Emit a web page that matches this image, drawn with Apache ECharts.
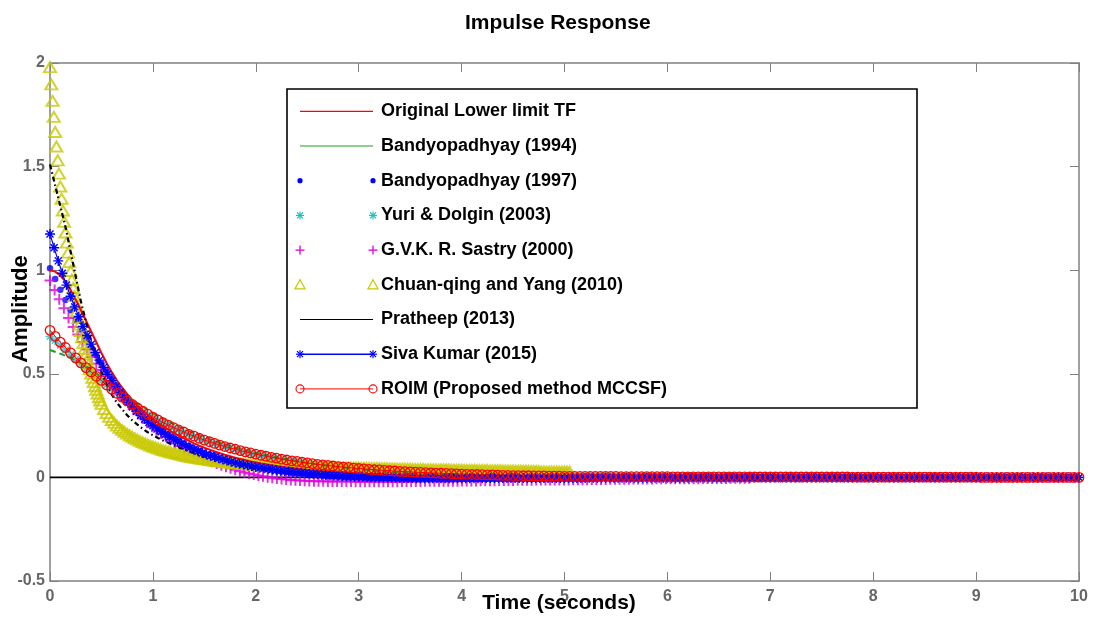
<!DOCTYPE html>
<html>
<head>
<meta charset="utf-8">
<script src="https://cdn.jsdelivr.net/npm/echarts@6/dist/echarts.min.js"></script>
<style>
  html, body { margin: 0; padding: 0; background: #fff; }
  #chart { width: 1099px; height: 619px; }
</style>
</head>
<body>
<div id="chart"></div>
<script>
// Impulse responses of the original lower-limit transfer function and its reduced-order models.

const seriesNames = [
  'Original Lower limit TF',
  'Bandyopadhyay (1994)',
  'Bandyopadhyay (1997)',
  'Yuri & Dolgin (2003)',
  'G.V.K. R. Sastry (2000)',
  'Chuan-qing and Yang (2010)',
  'Pratheep (2013)',
  'Siva Kumar (2015)',
  'ROIM (Proposed method MCCSF)'
];

const xTicks = [0, 1, 2, 3, 4, 5, 6, 7, 8, 9, 10];
const yTicks = [-0.5, 0, 0.5, 1, 1.5, 2];

// zero reference line
const zeroLineT = [0, 10];
const zeroLineY = [0, 0];

// Original Lower limit TF, sampled every 0.05 s
const originalStep = 0.05;
const originalY = [
  1.000,0.993,0.975,0.945,0.905,0.858,0.808,0.756,0.704,0.652,0.600,
  0.552,0.508,0.469,0.434,0.402,0.373,0.347,0.323,0.301,0.281,
  0.263,0.246,0.230,0.215,0.201,0.188,0.176,0.164,0.153,0.143,
  0.134,0.125,0.117,0.109,0.102,0.095,0.089,0.083,0.077,0.072,
  0.067,0.063,0.059,0.055,0.051,0.048,0.045,0.042,0.039,0.036,
  0.034,0.032,0.030,0.028,0.026,0.024,0.022,0.021,0.019,0.018,
  0.017,0.016,0.015,0.014,0.013,0.012,0.011,0.010,0.009,0.008,
  0.007,0.007,0.006,0.005,0.005,0.004,0.004,0.003,0.003,0.002,
  0.002,0.002,0.001,0.001,0.001,0.000,0.000,0.000,0.000,0.000,
  0.000,0.000,0.000,0.000,0.000,0.000,0.000,0.000,0.000,0.000
];

// Bandyopadhyay (1994), every 0.1 s
const bandy94Step = 0.1;
const bandy94Y = [
  0.615,0.597,0.576,0.552,0.522,0.482,0.445,0.410,0.375,0.342,0.310,
  0.283,0.257,0.234,0.213,0.194,0.176,0.160,0.145,0.131,0.119,
  0.107,0.097,0.087,0.078,0.070,0.063,0.056,0.050,0.045,0.040,
  0.035,0.031,0.027,0.024,0.021,0.018,0.016,0.014,0.012,0.010,
  0.009,0.008,0.007,0.006,0.005,0.004,0.003,0.003,0.002,0.002,
  0.001,0.001,0.001,0.000,0.000,0.000,0.000,0.000,0.000,0.000
];

// Bandyopadhyay (1997), every 0.05 s
const bandy97Step = 0.05;
const bandy97Y = [
  1.010,0.958,0.906,0.856,0.807,0.760,0.714,0.670,0.628,0.588,0.550,
  0.513,0.478,0.445,0.413,0.384,0.356,0.330,0.306,0.284,0.263,
  0.244,0.226,0.209,0.193,0.179,0.165,0.152,0.140,0.129,0.119,
  0.111,0.103,0.095,0.088,0.081,0.075,0.069,0.063,0.058,0.053,
  0.048,0.043,0.039,0.035,0.031,0.027,0.024,0.021,0.018,0.015,
  0.013,0.010,0.008,0.006,0.004,0.003,0.001,0.000,-0.001,-0.002,
  -0.003,-0.004,-0.005,-0.005,-0.006,-0.006,-0.007,-0.007,-0.007,-0.008,
  -0.008,-0.008,-0.008,-0.008,-0.008,-0.008,-0.008,-0.008,-0.008,-0.008,
  -0.007,-0.007,-0.007,-0.007,-0.007,-0.007,-0.007,-0.007,-0.007,-0.007,
  -0.006,-0.006,-0.006,-0.006,-0.006,-0.006,-0.006,-0.006,-0.006,-0.006,
  -0.005,-0.005,-0.005,-0.005,-0.005,-0.005,-0.005,-0.005,-0.005,-0.005,
  -0.004,-0.004,-0.004,-0.004,-0.004,-0.004,-0.004,-0.004,-0.004,-0.004,
  -0.003,-0.003,-0.003,-0.003,-0.003,-0.003,-0.003,-0.003,-0.003,-0.003,
  -0.002,-0.002,-0.002,-0.002,-0.002,-0.002,-0.002,-0.002,-0.002,-0.002
];

// Yuri & Dolgin (2003), every 0.05 s
const yuriStep = 0.05;
const yuriY = [
  0.680,0.660,0.638,0.615,0.592,0.569,0.547,0.525,0.505,0.485,0.466,
  0.445,0.425,0.405,0.386,0.368,0.351,0.334,0.319,0.304,0.290,
  0.276,0.263,0.251,0.239,0.228,0.218,0.207,0.198,0.188,0.179,
  0.171,0.163,0.155,0.148,0.141,0.135,0.128,0.122,0.117,0.111,
  0.106,0.101,0.096,0.092,0.087,0.083,0.079,0.076,0.072,0.069,
  0.065,0.062,0.059,0.057,0.054,0.051,0.049,0.047,0.044,0.042,
  0.040,0.038,0.036,0.035,0.033,0.031,0.030,0.028,0.027,0.026,
  0.024,0.023,0.022,0.021,0.020,0.019,0.018,0.017,0.016,0.015,
  0.014,0.013,0.013,0.012,0.011,0.011,0.010,0.009,0.009,0.008,
  0.008,0.007,0.007,0.006,0.006,0.006,0.005,0.005,0.005,0.004,
  0.004,0.004,0.004,0.004,0.004,0.004,0.004,0.004,0.004,0.004,
  0.003,0.003,0.003,0.003,0.003,0.003,0.003,0.003,0.003,0.003,
  0.002,0.002,0.002,0.002,0.002,0.002,0.002,0.002,0.002,0.002,0.002,0.002,0.002,0.002,0.002,
  0.001,0.001,0.001,0.001,0.001,0.001,0.001,0.001,0.001,0.001,
  0.001,0.001,0.001,0.001,0.001,0.001,0.001,0.001,0.001,0.001,
  0.000,0.000,0.000,0.000,0.000,0.000,0.000,0.000,0.000,0.000,
  0.000,0.000,0.000,0.000,0.000,0.000,0.000,0.000,0.000,0.000,0.000,0.000,0.000,0.000,0.000,
  -0.001,-0.001,-0.001,-0.001,-0.001,-0.001,-0.001,-0.001,-0.001,-0.001,
  -0.001,-0.001,-0.001,-0.001,-0.001,-0.001,-0.001,-0.001,-0.001,-0.001
];

// G.V.K. R. Sastry (2000), every 0.045 s
const sastryStep = 0.045;
const sastryY = [
  0.950,0.905,0.860,0.816,0.769,0.726,0.690,0.653,0.617,0.581,
  0.549,0.518,0.488,0.460,0.432,0.405,0.379,0.354,0.330,0.307,
  0.285,0.264,0.244,0.228,0.212,0.196,0.180,0.165,0.152,0.139,
  0.127,0.116,0.105,0.095,0.086,0.076,0.067,0.059,0.051,0.044,
  0.037,0.030,0.024,0.019,0.014,0.009,0.005,0.001,-0.002,-0.005,
  -0.008,-0.010,-0.012,-0.014,-0.015,-0.016,-0.017,-0.018,-0.019,-0.019,
  -0.020,
  -0.020,-0.020,-0.020,-0.020,-0.020,
  -0.021,-0.021,-0.021,-0.021,-0.021,-0.021,-0.021,-0.021,-0.021,-0.021,
  -0.020,-0.020,-0.020,-0.020,-0.020,
  -0.019,-0.019,-0.019,-0.019,-0.018,-0.018,-0.018,-0.018,
  -0.017,-0.017,-0.017,-0.017,-0.016,-0.016,-0.016,-0.016,
  -0.015,-0.015,-0.015,-0.015,
  -0.014,-0.014,-0.014,-0.014,-0.013,-0.013,-0.013,-0.013,
  -0.012,-0.012,-0.012,-0.012,-0.011,-0.011,-0.011,-0.011,
  -0.010,-0.010,-0.010,-0.010,
  -0.009,-0.009,-0.009,-0.009,-0.009,-0.008,-0.008,-0.008,-0.008,-0.008,
  -0.007,-0.007,-0.007,-0.007,-0.007,-0.006,-0.006,-0.006,-0.006,-0.006,
  -0.005,-0.005,-0.005,-0.005,-0.005,-0.005,
  -0.004,-0.004,-0.004,-0.004,-0.004
];

// Chuan-qing and Yang (2010): fine steps of 0.0125 s up to 0.5 s, then 0.025 s
const chuanHeadStep = 0.0125;
const chuanHeadY = [
  1.980,1.897,1.817,1.740,1.667,1.597,1.530,1.466,1.404,1.345,
  1.288,1.234,1.182,1.133,1.085,1.039,0.996,0.954,0.914,0.875,
  0.838,0.803,0.769,0.737,0.706,0.676,0.648,0.621,0.595,0.570,
  0.546,0.523,0.501,0.480,0.460,0.440,0.422,0.404,0.387,0.371,
  0.355
];
const chuanTailStart = 0.525;
const chuanTailStep = 0.025;
const chuanTailY = [
  0.330,0.310,0.292,0.277,0.263,0.250,0.239,0.229,0.220,0.211,
  0.203,0.196,0.189,0.182,0.176,0.170,0.164,0.159,0.154,0.149,
  0.145,0.140,0.136,0.132,0.128,0.125,0.121,0.118,0.115,0.112,
  0.109,0.106,0.103,0.101,0.098,0.096,0.094,0.092,0.090,0.088,
  0.086,0.084,0.082,0.080,0.079,0.077,0.076,0.074,0.073,0.072,
  0.070,0.069,0.068,0.067,0.066,0.065,0.064,0.063,0.062,0.061,
  0.060,0.060,0.059,0.059,0.058,0.058,0.057,0.057,0.056,0.056,
  0.055,0.055,0.054,0.054,0.054,0.053,0.053,0.053,0.052,0.052,
  0.051,0.051,0.051,0.051,0.050,0.050,0.050,0.050,0.049,0.049,
  0.049,0.049,0.048,0.048,0.048,0.048,0.047,0.047,0.047,0.047,
  0.046,0.046,0.046,0.046,0.045,0.045,0.045,0.045,0.044,0.044,
  0.044,0.043,0.043,0.043,0.042,0.042,0.042,0.041,0.041,0.041,
  0.040,0.040,0.040,0.040,0.040,0.039,0.039,0.039,0.039,0.039,
  0.038,0.038,0.038,0.038,0.038,0.037,0.037,0.037,0.037,0.037,
  0.036,0.036,0.036,0.036,0.036,0.035,0.035,0.035,0.035,0.035,
  0.034,0.034,0.034,0.034,0.034,0.033,0.033,0.033,0.033,0.033,
  0.032,0.032,0.032,0.032,0.032,0.031,0.031,0.031,0.031,0.031,
  0.028,0.028,0.028,0.028,0.028,0.028,0.028,0.028,0.028,0.028,
  0.028,0.028
];

// Pratheep (2013), every 0.05 s
const pratheepStep = 0.05;
const pratheepY = [
  1.510,1.410,1.310,1.210,1.090,0.970,0.850,0.750,0.660,0.580,0.510,
  0.450,0.400,0.360,0.330,0.300,0.275,0.255,0.235,0.218,0.203,
  0.190,0.178,0.167,0.156,0.146,0.136,0.127,0.118,0.110,0.102,
  0.095,0.088,0.081,0.075,0.069,0.063,0.058,0.053,0.048,0.044,
  0.040,0.036,0.032,0.029,0.026,0.023,0.020,0.018,0.016,0.014,
  0.012,0.010,0.009,0.007,0.006,0.005,0.004,0.003,0.002,0.001,
  0.001,0.000,0.000,-0.001,-0.001,-0.001,-0.002,-0.002,-0.002,-0.002,
  -0.002,-0.002,-0.002,-0.002,-0.002,-0.002,-0.002,-0.002,-0.002,-0.002,
  -0.002,-0.002,-0.002,-0.002,-0.002,-0.001,-0.001,-0.001,-0.001,-0.001,
  -0.001,-0.001,-0.001,-0.001,-0.001,0.000,0.000,0.000,0.000,0.000
];

// Siva Kumar (2015), every 0.04 s
const sivaStep = 0.04;
const sivaY = [
  1.175,1.108,1.045,0.985,0.928,0.874,0.823,0.775,0.729,0.685,
  0.643,0.603,0.566,0.531,0.498,0.467,0.438,0.411,0.386,0.362,
  0.340,0.319,0.300,0.282,0.265,0.249,0.234,0.220,0.207,0.195,
  0.183,0.172,0.162,0.152,0.143,0.134,0.126,0.118,0.111,0.104,
  0.098,0.092,0.086,0.081,0.076,0.071,0.066,0.062,0.058,0.054,
  0.050,
  0.047,0.044,0.041,0.038,0.035,0.032,0.030,0.028,0.026,0.024,
  0.022,0.020,0.018,0.016,0.015,0.013,0.012,0.010,0.009,0.008,
  0.007,0.006,0.005,0.004,0.003,0.003,0.002,0.001,0.001,0.000,
  0.000,-0.001,-0.001,-0.002,-0.002,-0.003,-0.003,-0.003,-0.004,-0.004,
  -0.004,-0.004,-0.004,-0.004,-0.004,-0.004,-0.004,-0.004,-0.004,-0.004,
  -0.004,-0.004,-0.004,-0.004,-0.004,
  -0.003,-0.003,-0.003,-0.003,-0.003,-0.003,-0.003,-0.003,-0.003,-0.003,
  -0.003,-0.003,-0.003,-0.003,-0.003,-0.003,-0.003,-0.003,-0.003,-0.003,
  -0.003,-0.003,-0.003,-0.003,-0.003,
  -0.002,-0.002,-0.002,-0.002,-0.002,-0.002,-0.002,-0.002,-0.002,-0.002,
  -0.002,-0.002,-0.002,-0.002,-0.002,-0.002,-0.002,-0.002,-0.002,-0.002,
  -0.002,-0.002,-0.002,-0.002,-0.002,
  -0.001,-0.001,-0.001,-0.001,-0.001,-0.001,-0.001,-0.001,-0.001,-0.001,
  -0.001,-0.001,-0.001,-0.001,-0.001,-0.001,-0.001,-0.001,-0.001,-0.001,
  -0.001,-0.001,-0.001,-0.001,-0.001,-0.001,-0.001,-0.001,-0.001,-0.001,
  -0.001,-0.001,-0.001,-0.001,-0.001,-0.001,-0.001,-0.001,-0.001,-0.001,
  -0.001,-0.001,-0.001,-0.001,-0.001,
  0.000,0.000,0.000,0.000,0.000,0.000,0.000,0.000,0.000,0.000,
  0.000,0.000,0.000,0.000,0.000,0.000,0.000,0.000,0.000,0.000,
  0.000,0.000,0.000,0.000,0.000,0.000,0.000,0.000,0.000,0.000,
  0.000,0.000,0.000,0.000,0.000,0.000,0.000,0.000,0.000,0.000,
  0.000,0.000,0.000,0.000,0.000,0.000,0.000,0.000,0.000,0.000
];

// ROIM (Proposed method MCCSF), every 0.05 s
const roimStep = 0.05;
const roimY = [
  0.710,0.681,0.653,0.627,0.601,0.577,0.553,0.530,0.509,0.488,0.468,
  0.446,0.426,0.406,0.387,0.369,0.352,0.335,0.320,0.305,0.291,
  0.277,0.264,0.252,0.240,0.229,0.219,0.208,0.199,0.189,0.180,
  0.172,0.164,0.156,0.149,0.142,0.136,0.129,0.123,0.118,0.112,
  0.107,0.102,0.097,0.093,0.088,0.084,0.080,0.077,0.073,0.070,
  0.066,0.063,0.060,0.058,0.055,0.052,0.050,0.048,0.045,0.043,
  0.041,0.039,0.037,0.036,0.034,0.032,0.031,0.029,0.028,0.027,
  0.025,0.024,0.023,0.022,0.021,0.020,0.019,0.018,0.017,0.016,
  0.015,0.014,0.014,0.013,0.012,0.012,0.011,0.010,0.010,0.009,
  0.009,0.008,0.008,0.007,0.007,0.007,0.006,0.006,0.006,0.005,
  0.005,0.005,0.005,0.005,0.005,0.005,0.005,0.005,0.005,0.005,
  0.004,0.004,0.004,0.004,0.004,0.004,0.004,0.004,0.004,0.004,
  0.003,0.003,0.003,0.003,0.003,0.003,0.003,0.003,0.003,0.003,0.003,0.003,0.003,0.003,0.003,
  0.002,0.002,0.002,0.002,0.002,0.002,0.002,0.002,0.002,0.002,
  0.002,0.002,0.002,0.002,0.002,0.002,0.002,0.002,0.002,0.002,
  0.001,0.001,0.001,0.001,0.001,0.001,0.001,0.001,0.001,0.001,
  0.001,0.001,0.001,0.001,0.001,0.001,0.001,0.001,0.001,0.001,
  0.001,0.001,0.001,0.001,0.001,
  0.000,0.000,0.000,0.000,0.000,0.000,0.000,0.000,0.000,0.000,
  0.000,0.000,0.000,0.000,0.000,0.000,0.000,0.000,0.000,0.000
];

// ---- drawing ----
const FONT = "'Liberation Sans', Arial, Helvetica, sans-serif";
const AXIS_GRAY = '#808080';
const LABEL_GRAY = '#666666';
const COLORS = {
  red: '#ff0000', green: '#1f9e1f', blue: '#0000ff', cyan: '#1fbfbf',
  magenta: '#dd00dd', yellow: '#c8c800', black: '#000000'
};
const ASTERISK = 'path://M0 5L10 5M5 0L5 10M1.5 1.5L8.5 8.5M1.5 8.5L8.5 1.5';
const PLUS = 'path://M0 5L10 5M5 0L5 10';
const CLEAR = 'rgba(0,0,0,0)';

function toPoints(start, step, values) {
  return values.map((v, i) => [Math.round((start + i * step) * 10000) / 10000, v]);
}

const zeroLine = zeroLineT.map((t, i) => [t, zeroLineY[i]]);
const chuanPoints = toPoints(0, chuanHeadStep, chuanHeadY)
  .concat(toPoints(chuanTailStart, chuanTailStep, chuanTailY));

const series = [
  { name: 'zero', type: 'line', data: zeroLine, symbol: 'none', silent: true,
    lineStyle: { color: '#000', width: 1.6 }, z: 1 },
  { name: seriesNames[0], type: 'line', data: toPoints(0, originalStep, originalY), symbol: 'none',
    lineStyle: { color: COLORS.red, width: 2 } },
  { name: seriesNames[1], type: 'line', data: toPoints(0, bandy94Step, bandy94Y), symbol: 'none',
    lineStyle: { color: COLORS.green, width: 2, type: [6, 4] } },
  { name: seriesNames[2], type: 'scatter', data: toPoints(0, bandy97Step, bandy97Y),
    symbol: 'circle', symbolSize: 6.5, itemStyle: { color: COLORS.blue } },
  { name: seriesNames[3], type: 'scatter', data: toPoints(0, yuriStep, yuriY),
    symbol: ASTERISK, symbolSize: 9,
    itemStyle: { color: CLEAR, borderColor: COLORS.cyan, borderWidth: 1.5 } },
  { name: seriesNames[4], type: 'scatter', data: toPoints(0, sastryStep, sastryY),
    symbol: PLUS, symbolSize: 11,
    itemStyle: { color: CLEAR, borderColor: COLORS.magenta, borderWidth: 2 } },
  { name: seriesNames[5], type: 'scatter', data: chuanPoints,
    symbol: 'triangle', symbolSize: [12, 10],
    itemStyle: { color: CLEAR, borderColor: COLORS.yellow, borderWidth: 2 } },
  { name: seriesNames[6], type: 'line', data: toPoints(0, pratheepStep, pratheepY), symbol: 'none',
    lineStyle: { color: COLORS.black, width: 2.2, type: [5, 3, 1.5, 3] } },
  { name: seriesNames[7], type: 'line', data: toPoints(0, sivaStep, sivaY),
    symbol: ASTERISK, symbolSize: 10, showSymbol: true, showAllSymbol: true,
    lineStyle: { color: COLORS.blue, width: 1.2 },
    itemStyle: { color: CLEAR, borderColor: COLORS.blue, borderWidth: 1.4 } },
  { name: seriesNames[8], type: 'line', data: toPoints(0, roimStep, roimY),
    symbol: 'circle', symbolSize: 9.5, showSymbol: true, showAllSymbol: true,
    lineStyle: { color: COLORS.red, width: 1 },
    itemStyle: { color: CLEAR, borderColor: COLORS.red, borderWidth: 1.3 } }
];

// legend box drawn with graphic elements: a short sample segment with markers at both ends
const legendRows = [
  { line: { color: COLORS.red, width: 1.2 } },
  { line: { color: COLORS.green, width: 1.2 } },
  { marker: 'dot', color: COLORS.blue },
  { marker: 'asterisk', color: COLORS.cyan },
  { marker: 'plus', color: COLORS.magenta },
  { marker: 'triangle', color: COLORS.yellow },
  { line: { color: COLORS.black, width: 1 } },
  { line: { color: COLORS.blue, width: 1.5 }, marker: 'asterisk', color: COLORS.blue },
  { line: { color: COLORS.red, width: 1 }, marker: 'ring', color: COLORS.red }
];
const LG = { x: 287, y: 89, w: 630, h: 319, row0: 111.3, gap: 34.7, x1: 300, x2: 373, tx: 381 };

let gid = 0;
function markerEls(kind, cx, cy, color) {
  const seg = (a, b, c, d, w) => ({ type: 'line', id: 'lg' + (gid++), z: 101,
    shape: { x1: cx + a, y1: cy + b, x2: cx + c, y2: cy + d }, style: { stroke: color, lineWidth: w } });
  if (kind === 'dot') return [{ type: 'circle', id: 'lg' + (gid++), z: 101, shape: { cx, cy, r: 2.6 }, style: { fill: color } }];
  if (kind === 'asterisk') return [seg(-4, 0, 4, 0, 1.2), seg(0, -4, 0, 4, 1.2), seg(-3, -3, 3, 3, 1.2), seg(-3, 3, 3, -3, 1.2)];
  if (kind === 'plus') return [seg(-4.5, 0, 4.5, 0, 1.3), seg(0, -4.5, 0, 4.5, 1.3)];
  if (kind === 'triangle') return [{ type: 'polygon', id: 'lg' + (gid++), z: 101,
    shape: { points: [[cx, cy - 5], [cx - 5, cy + 4], [cx + 5, cy + 4]] },
    style: { fill: 'none', stroke: color, lineWidth: 1.3 } }];
  if (kind === 'ring') return [{ type: 'circle', id: 'lg' + (gid++), z: 101, shape: { cx, cy, r: 4 },
    style: { fill: 'none', stroke: color, lineWidth: 1.1 } }];
  return [];
}

const graphics = [
  { type: 'rect', id: 'legendBox', z: 100, shape: { x: LG.x, y: LG.y, width: LG.w, height: LG.h },
    style: { fill: '#fff', stroke: '#000', lineWidth: 1.6 } }
];
legendRows.forEach((row, i) => {
  const cy = LG.row0 + i * LG.gap;
  if (row.line) {
    graphics.push({ type: 'line', id: 'lgLine' + i, z: 101, shape: { x1: LG.x1, y1: cy, x2: LG.x2, y2: cy },
      style: { stroke: row.line.color, lineWidth: row.line.width } });
  }
  if (row.marker) {
    graphics.push(...markerEls(row.marker, LG.x1, cy, row.color));
    graphics.push(...markerEls(row.marker, LG.x2, cy, row.color));
  }
  graphics.push({ type: 'text', id: 'lgText' + i, z: 101, x: LG.tx, y: cy,
    style: { text: seriesNames[i], fill: '#000', fontFamily: FONT, fontSize: 18, fontWeight: 'bold',
      align: 'left', verticalAlign: 'middle', textAlign: 'left', textVerticalAlign: 'middle' } });
});
// axis titles
graphics.push({ type: 'text', id: 'xName', z: 50, x: 559, y: 603,
  style: { text: 'Time (seconds)', fill: '#000', fontFamily: FONT, fontSize: 21, fontWeight: 'bold',
    align: 'center', verticalAlign: 'middle', textAlign: 'center', textVerticalAlign: 'middle' } });
graphics.push({ type: 'text', id: 'yName', z: 50, x: 21, y: 309, rotation: Math.PI / 2,
  style: { text: 'Amplitude', fill: '#000', fontFamily: FONT, fontSize: 22, fontWeight: 'bold',
    align: 'center', verticalAlign: 'middle', textAlign: 'center', textVerticalAlign: 'middle' } });

const axisLine = { show: true, onZero: false, lineStyle: { color: AXIS_GRAY, width: 1.5 } };
const axisTick = { show: true, inside: true, length: 9, lineStyle: { color: AXIS_GRAY, width: 1 } };
const tickLabel = { color: LABEL_GRAY, fontFamily: FONT, fontSize: 16, fontWeight: 'bold' };

const xBase = { type: 'value', min: xTicks[0], max: xTicks[xTicks.length - 1], interval: xTicks[1] - xTicks[0],
  axisLine, axisTick, splitLine: { show: false } };
const yBase = { type: 'value', min: yTicks[0], max: yTicks[yTicks.length - 1], interval: yTicks[1] - yTicks[0],
  axisLine, axisTick, splitLine: { show: false } };

const option = {
  animation: false,
  backgroundColor: '#fff',
  title: { text: 'Impulse Response', left: 460, top: 8,
    textStyle: { fontFamily: FONT, fontSize: 21, fontWeight: 'bold', color: '#000' } },
  grid: { left: 50, right: 20, top: 63, bottom: 38 },
  xAxis: [
    Object.assign({}, xBase, { position: 'bottom', axisLabel: Object.assign({ margin: 8 }, tickLabel) }),
    Object.assign({}, xBase, { position: 'top', axisLabel: { show: false } })
  ],
  yAxis: [
    Object.assign({}, yBase, { position: 'left', axisLabel: Object.assign({ margin: 5 }, tickLabel) }),
    Object.assign({}, yBase, { position: 'right', axisLabel: { show: false } })
  ],
  series,
  graphic: graphics
};

const chart = echarts.init(document.getElementById('chart'), null, { renderer: 'canvas' });
chart.setOption(option);
</script>
</body>
</html>
